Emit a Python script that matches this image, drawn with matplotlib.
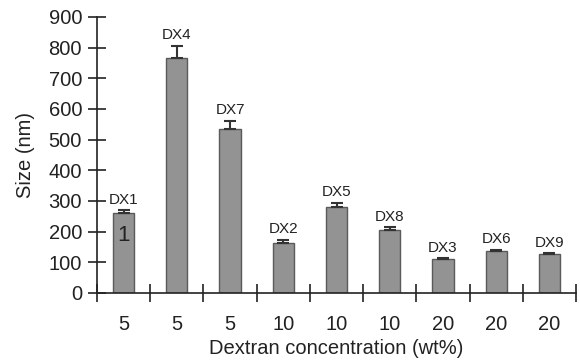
import matplotlib
matplotlib.use("Agg")
import matplotlib.pyplot as plt
import numpy as np

names = ["DX1", "DX4", "DX7", "DX2", "DX5", "DX8", "DX3", "DX6", "DX9"]
conc = ["5", "5", "5", "10", "10", "10", "20", "20", "20"]
sizes = [260, 765, 535, 162, 279, 204, 110, 137, 126]
errors = [10, 41, 27, 11, 15, 11, 4, 4, 4]

plt.rcParams['font.family'] = ['Liberation Sans', 'DejaVu Sans']

fig = plt.figure(figsize=(5.8, 3.64), dpi=100)
ax = fig.add_axes([97/580, 71/364, 479/580, 276/364])

x = np.arange(len(names))
ax.bar(x, sizes, width=0.4, color="#939393", edgecolor="#5a5a5a", linewidth=1.0, zorder=2)
ax.errorbar(x, sizes, yerr=[np.zeros(len(errors)), errors], fmt="none",
            ecolor="#333333", elinewidth=1.5, capsize=4, capthick=1.5, zorder=3)
for xi, s, e, n in zip(x, sizes, errors, names):
    ax.annotate(n, (xi, s + e), xytext=(0, 2.5), textcoords="offset points",
                ha="center", va="bottom", fontsize=11, color="#222222")
ax.text(x[0], 189, "1", ha="center", va="center", fontsize=16, color="#222222")

ax.set_xlim(-0.5, len(names) - 0.5)
ax.set_ylim(0, 900)
ax.set_yticks(range(0, 901, 100))
ax.set_xticks(x)
ax.set_xticklabels(conc)
ax.set_xticks(np.arange(-0.5, len(names), 1.0), minor=True)
ax.tick_params(axis="x", which="major", length=0, pad=16, labelsize=14.5, colors="#222222")
ax.tick_params(axis="x", which="minor", direction="inout", length=12.5, width=1.2, color="#222222")
ax.tick_params(axis="y", direction="inout", length=12.5, width=1.2, pad=4.5, labelsize=14.5, colors="#222222")

for sp in ["top", "right"]:
    ax.spines[sp].set_visible(False)
for sp in ["left", "bottom"]:
    ax.spines[sp].set_linewidth(1.2)
    ax.spines[sp].set_color("#222222")

ax.set_xlabel("Dextran concentration (wt%)", fontsize=14.5, color="#222222", labelpad=3.5)
ax.set_ylabel("Size (nm)", fontsize=14.5, color="#222222", labelpad=10)

fig.savefig("out.png", dpi=100)
